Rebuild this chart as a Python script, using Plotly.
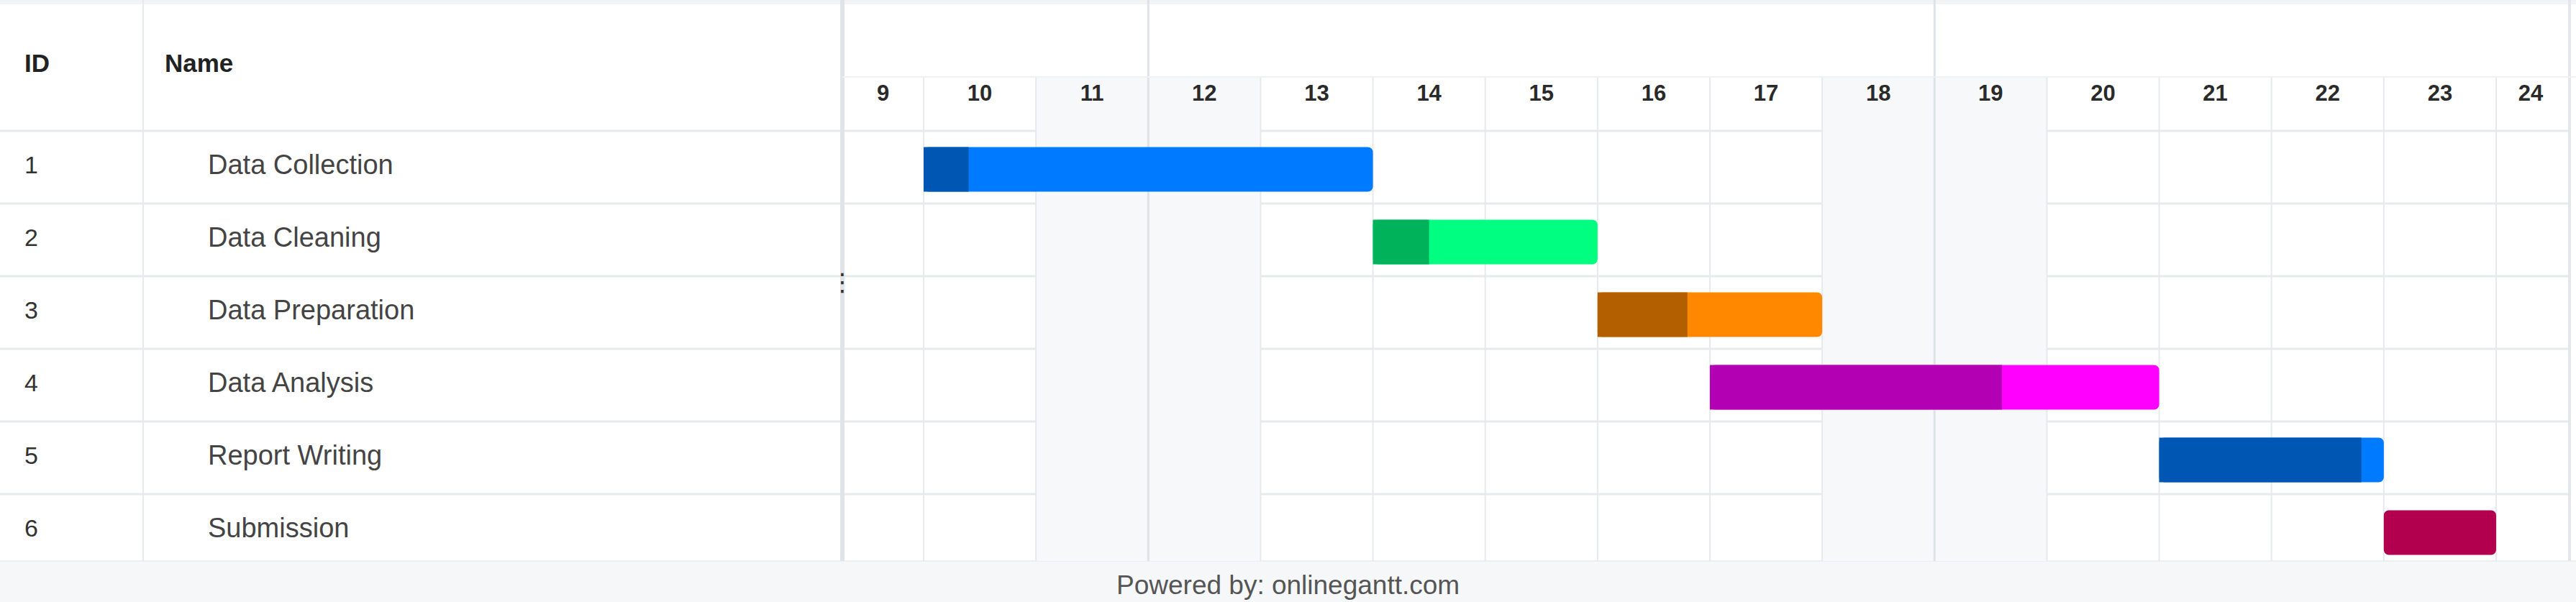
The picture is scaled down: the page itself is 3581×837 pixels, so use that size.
import plotly.graph_objects as go

# ---------------- data ----------------
task_ids = [1, 2, 3, 4, 5, 6]
task_names = ["Data Collection", "Data Cleaning", "Data Preparation",
              "Data Analysis", "Report Writing", "Submission"]
start_days = [10, 14, 16, 17, 21, 23]
durations = [4, 2, 2, 4, 2, 1]
progress_pct = [10, 25, 40, 65, 90, 100]
bar_colors = ["#007bff", "#00ff80", "#ff8800", "#ff00ff", "#007bff", "#ff0070"]
progress_colors = ["#0056b3", "#00b35a", "#b35f00", "#b300b3", "#0056b3", "#b3004e"]
day_labels = [9, 10, 11, 12, 13, 14, 15, 16, 17, 18, 19, 20, 21, 22, 23, 24]
weekend_days = [11, 12, 18, 19]
week_start_days = [12, 19]
column_headers = ["ID", "Name"]
footer_text = "Powered by: onlinegantt.com"

# ---------------- layout geometry (pixels) ----------------
W, H = 3581, 837
TABLE_W = 1171
GANTT_R = 3566
ID_COL_W = 199
HEADER_H = 182
WEEK_ROW_H = 107
ROW_H = 101
BODY_BOTTOM = 780
DAY_PX = 156.14
DAY10_PX = 1284
FONT = "Arial, Liberation Sans, sans-serif"

view_start = 10 - (DAY10_PX - TABLE_W) / DAY_PX
view_end = view_start + (W - TABLE_W) / DAY_PX
label_end = view_start + (GANTT_R - TABLE_W) / DAY_PX


def yv(px):
    return 0.5 + (px - HEADER_H) / ROW_H


y_top = yv(0)
y_bottom = yv(BODY_BOTTOM)

fig = go.Figure()

# ---------------- gantt bars ----------------
prog_days = [d * p / 100 for d, p in zip(durations, progress_pct)]
full_colors = [pc if p >= 100 else bc
               for bc, pc, p in zip(bar_colors, progress_colors, progress_pct)]
overlay_len = [pd if p < 100 else 0 for pd, p in zip(prog_days, progress_pct)]
bar_w = 62 / ROW_H
bar_off = -bar_w / 2 + 3 / ROW_H

fig.add_trace(go.Bar(
    orientation="h", y=task_ids, base=start_days, x=durations,
    marker=dict(color=full_colors, cornerradius=7, line=dict(width=0)),
    width=bar_w, offset=bar_off, xaxis="x", yaxis="y",
    hoverinfo="skip", showlegend=False))
fig.add_trace(go.Bar(
    orientation="h", y=task_ids, base=start_days, x=overlay_len,
    marker=dict(color=progress_colors, line=dict(width=0)),
    width=bar_w, offset=bar_off, xaxis="x", yaxis="y",
    hoverinfo="skip", showlegend=False))

# ---------------- day labels ----------------
label_x = [(max(d, view_start) + min(d + 1, label_end)) / 2 for d in day_labels]
fig.add_trace(go.Scatter(
    x=label_x, y=[yv(132)] * len(day_labels), mode="text",
    text=[str(d) for d in day_labels], textposition="middle center",
    textfont=dict(size=31, color="#2a2a2a", family=FONT, weight="bold"),
    xaxis="x", yaxis="y", cliponaxis=False, hoverinfo="skip", showlegend=False))

# ---------------- left table ----------------
fig.add_trace(go.Scatter(
    x=[34, 229], y=[yv(91)] * 2, mode="text", text=column_headers,
    textposition="middle right",
    textfont=dict(size=35, color="#222222", family=FONT, weight="bold"),
    xaxis="x2", yaxis="y", cliponaxis=False, hoverinfo="skip", showlegend=False))
fig.add_trace(go.Scatter(
    x=[34] * len(task_ids), y=task_ids, mode="text",
    text=[str(i) for i in task_ids], textposition="middle right",
    textfont=dict(size=34, color="#333333", family=FONT),
    xaxis="x2", yaxis="y", cliponaxis=False, hoverinfo="skip", showlegend=False))
fig.add_trace(go.Scatter(
    x=[289] * len(task_ids), y=task_ids, mode="text",
    text=task_names, textposition="middle right",
    textfont=dict(size=38, color="#444444", family=FONT),
    xaxis="x2", yaxis="y", cliponaxis=False, hoverinfo="skip", showlegend=False))

# ---------------- shapes ----------------
shapes = []
shapes.append(dict(type="rect", xref="paper", yref="paper", x0=0, x1=1,
                   y0=1 - 6 / H, y1=1, fillcolor="#f1f3f5", line=dict(width=0),
                   layer="below"))
shapes.append(dict(type="rect", xref="paper", yref="paper", x0=0, x1=1,
                   y0=0, y1=1 - BODY_BOTTOM / H, fillcolor="#f6f7f9",
                   line=dict(width=0), layer="below"))
for d in weekend_days:
    shapes.append(dict(type="rect", xref="x", yref="y", x0=d, x1=d + 1,
                       y0=yv(WEEK_ROW_H), y1=y_bottom, fillcolor="#f7f8fa",
                       line=dict(width=0), layer="below"))
for d in range(int(view_start) + 1, int(view_end) + 1):
    if d in week_start_days:
        continue
    shapes.append(dict(type="line", xref="x", yref="y", x0=d, x1=d,
                       y0=yv(WEEK_ROW_H), y1=y_bottom,
                       line=dict(color="#e7e9ec", width=2), layer="below"))
for d in week_start_days:
    shapes.append(dict(type="line", xref="x", yref="y", x0=d, x1=d,
                       y0=y_top, y1=y_bottom,
                       line=dict(color="#dfe2e6", width=3), layer="below"))
shapes.append(dict(type="line", xref="x", yref="y", x0=view_start, x1=view_end,
                   y0=yv(WEEK_ROW_H), y1=yv(WEEK_ROW_H),
                   line=dict(color="#f0f1f3", width=2), layer="below"))
for k in range(0, len(task_ids)):
    shapes.append(dict(type="line", xref="paper", yref="y", x0=0, x1=3574 / W,
                       y0=k + 0.5, y1=k + 0.5,
                       line=dict(color="#e6e9ed", width=3), layer="below"))
shapes.append(dict(type="line", xref="paper", yref="paper", x0=0, x1=1,
                   y0=1 - BODY_BOTTOM / H, y1=1 - BODY_BOTTOM / H,
                   line=dict(color="#eceef1", width=2), layer="below"))
shapes.append(dict(type="line", xref="paper", yref="y", x0=ID_COL_W / W, x1=ID_COL_W / W,
                   y0=y_top, y1=y_bottom, line=dict(color="#e6e9ed", width=2),
                   layer="below"))
shapes.append(dict(type="line", xref="paper", yref="y", x0=TABLE_W / W, x1=TABLE_W / W,
                   y0=y_top, y1=y_bottom, line=dict(color="#e0e3e8", width=6),
                   layer="below"))
shapes.append(dict(type="line", xref="paper", yref="y", x0=3572 / W, x1=3572 / W,
                   y0=y_top, y1=y_bottom, line=dict(color="#e3e6ea", width=4),
                   layer="below"))

annotations = [
    dict(text=footer_text, xref="paper", yref="paper", x=0.5, y=1 - 813 / H,
         showarrow=False, xanchor="center", yanchor="middle",
         font=dict(size=37, color="#555555", family=FONT)),
    dict(text="⋮", xref="paper", yref="y", x=TABLE_W / W, y=yv(392),
         showarrow=False, xanchor="center", yanchor="middle",
         font=dict(size=34, color="#333333", family="DejaVu Sans")),
]

fig.update_layout(
    width=W, height=H, autosize=False,
    margin=dict(l=0, r=0, t=0, b=0, pad=0),
    paper_bgcolor="white", plot_bgcolor="rgba(0,0,0,0)",
    barmode="overlay", showlegend=False,
    xaxis=dict(domain=[TABLE_W / W, 1], range=[view_start, view_end],
               visible=False, fixedrange=True, anchor="y"),
    xaxis2=dict(domain=[0, TABLE_W / W], range=[0, TABLE_W],
                visible=False, fixedrange=True, anchor="y"),
    yaxis=dict(domain=[1 - BODY_BOTTOM / H, 1], range=[y_bottom, y_top],
               visible=False, fixedrange=True, anchor="x"),
    shapes=shapes, annotations=annotations,
    hovermode=False,
)

fig.write_html(
    "out.html",
    config={"displayModeBar": False},
    post_script="document.body.style.margin='0';document.body.style.overflow='hidden';",
)
